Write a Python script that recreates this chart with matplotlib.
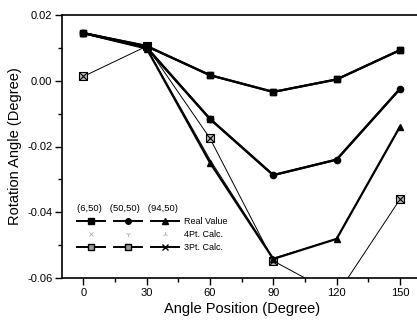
import matplotlib
matplotlib.use("Agg")
import matplotlib.pyplot as plt
from matplotlib.lines import Line2D
from matplotlib.ticker import MultipleLocator

plt.rcParams['font.family'] = ['Liberation Sans', 'DejaVu Sans']

angles = [0, 30, 60, 90, 120, 150]

real_6 = [0.0145, 0.0105, 0.0017, -0.0034, 0.0004, 0.0093]
real_50 = [0.0145, 0.0100, -0.0116, -0.0287, -0.0240, -0.0025]
real_94 = [0.0145, 0.0098, -0.0249, -0.0542, -0.0481, -0.0140]

calc4_6 = [0.0145, 0.0104, 0.0017, -0.0034, 0.0004, 0.0093]
calc4_50 = [0.0145, 0.0101, -0.0116, -0.0287, -0.0240, -0.0025]
calc4_94 = [0.0145, 0.0100, -0.0240, -0.0540, -0.0481, -0.0140]

calc3_6 = [0.0145, 0.0106, 0.0017, -0.0034, 0.0004, 0.0093]
calc3_50 = [0.0145, 0.0102, -0.0116, -0.0287, -0.0240, -0.0025]
calc3_94 = [0.0013, 0.0105, -0.0175, -0.0548, -0.0652, -0.0361]

col_headers = ["(6,50)", "(50,50)", "(94,50)"]
row_labels = ["Real Value", "4Pt. Calc.", "3Pt. Calc."]

fig = plt.figure(figsize=(4.17, 3.25), dpi=100)
ax = fig.add_axes([62.2 / 417, 1 - 278 / 325, (421 - 62.2) / 417, (278 - 15) / 325])

thick = 1.6
thin = 0.7
ms = 4.5

# 4-point calc (thin lines, faint markers)
ax.plot(angles, calc4_6, color='black', lw=thin, zorder=2)
ax.plot(angles, calc4_50, color='black', lw=thin, zorder=2)
ax.plot(angles, calc4_94, color='black', lw=thin, zorder=2)

# 3-point calc
ax.plot(angles, calc3_94, color='black', lw=thin, marker='s', ms=ms + 1,
        mfc='#bbbbbb', mec='black', mew=0.8, zorder=3)
ax.plot(angles, calc3_94, ls='none', marker='x', ms=ms + 1, mec='black', mew=0.8, zorder=3)
ax.plot(angles, calc3_6, color='black', lw=thick, marker='s', ms=ms,
        mfc='black', mec='black', zorder=3)

# Real values
ax.plot(angles, real_6, color='black', lw=thick, marker='s', ms=ms, mfc='black', mec='black', zorder=4)
ax.plot(angles, real_50, color='black', lw=thick, marker='o', ms=ms, mfc='black', mec='black', zorder=4)
ax.plot(angles, real_94, color='black', lw=thick, marker='^', ms=ms, mfc='black', mec='black', zorder=4)
ax.plot(angles, calc3_50, color='black', lw=thick, marker='s', ms=ms - 0.5,
        mfc='black', mec='black', zorder=5, markevery=[2])

ax.set_xlim(-10, 160)
ax.set_ylim(-0.06, 0.02)
ax.xaxis.set_major_locator(MultipleLocator(30))
ax.xaxis.set_minor_locator(MultipleLocator(15))
ax.yaxis.set_major_locator(MultipleLocator(0.02))
ax.yaxis.set_minor_locator(MultipleLocator(0.01))
ax.yaxis.set_major_formatter(matplotlib.ticker.FormatStrFormatter('%.2f'))
ax.tick_params(which='major', direction='out', length=5, width=1, labelsize=8, pad=2)
ax.tick_params(which='minor', direction='out', length=3, width=1)
for s in ax.spines.values():
    s.set_linewidth(1.2)

ax.set_xlabel("Angle Position (Degree)", fontsize=10.5, labelpad=3)
ax.set_ylabel("Rotation Angle (Degree)", fontsize=10.5, labelpad=4)

# Legend: 3 columns (sites) x 3 rows (methods)
lw_leg = 1.4
h_real = [Line2D([], [], color='black', lw=lw_leg, marker=m, ms=4, mfc='black', mec='black')
          for m in ['s', 'o', '^']]
h_4 = [Line2D([], [], ls='none', marker=m, ms=3.5, color='#aaaaaa', mew=0.6)
       for m in ['x', '1', '2']]
h_3 = [Line2D([], [], color='black', lw=lw_leg, marker='s', ms=4, mfc='#999999', mec='black'),
       Line2D([], [], color='black', lw=lw_leg, marker='s', ms=4, mfc='#999999', mec='black'),
       Line2D([], [], color='black', lw=lw_leg, marker='x', ms=5, mec='black', mew=1.0)]
handles = []
labels = []
for c in range(3):
    handles += [h_real[c], h_4[c], h_3[c]]
    if c == 2:
        labels += row_labels
    else:
        labels += ["", "", ""]

leg = ax.legend(handles, labels, ncol=3, loc='lower left',
                bbox_to_anchor=(0.040, 0.097), frameon=False, fontsize=6.5,
                handlelength=3.1, handletextpad=0.55, columnspacing=0.5,
                labelspacing=0.45, borderpad=0, borderaxespad=0,
                title="   ".join(col_headers), title_fontsize=6.8,
                alignment='left')

fig.savefig("out.png", dpi=100)
